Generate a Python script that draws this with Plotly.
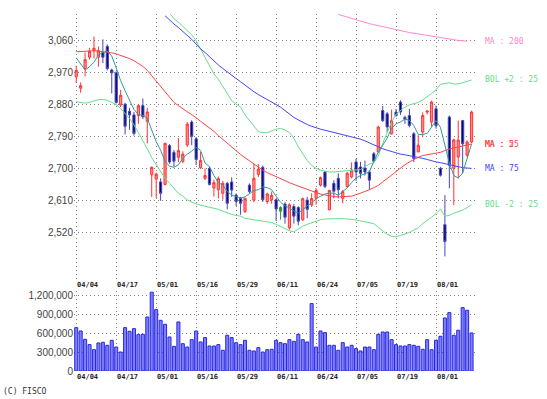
import plotly.graph_objects as go

dates = ["04/04","04/05","04/08","04/09","04/10","04/11","04/12","04/15","04/16","04/17",
         "04/18","04/19","04/22","04/23","04/24","04/25","04/26","04/30","05/01","05/02",
         "05/07","05/08","05/09","05/10","05/13","05/14","05/15","05/16","05/17","05/20",
         "05/21","05/22","05/23","05/24","05/27","05/28","05/29","05/30","05/31","06/03",
         "06/04","06/05","06/06","06/07","06/10","06/11","06/12","06/13","06/14","06/17",
         "06/18","06/19","06/20","06/21","06/24","06/25","06/26","06/27","06/28","07/01",
         "07/02","07/03","07/04","07/05","07/08","07/09","07/10","07/11","07/12","07/16",
         "07/17","07/18","07/19","07/22","07/23","07/24","07/25","07/26","07/29","07/30",
         "07/31","08/01","08/02","08/05","08/06","08/07","08/08","08/09","08/12","08/13"]

open_ = [2957,2925,2980,3012,3030,3012,3025,3042,2976,2968,
         2878,2880,2860,2850,2848,2876,2832,2682,2670,2662,
         2655,2764,2745,2731,2720,2766,2830,2783,2702,2672,
         2700,2645,2640,2630,2658,2662,2625,2616,2579,2653,
         2611,2683,2703,2607,2612,2612,2580,2600,2533,2593,
         2590,2556,2611,2597,2616,2653,2690,2584,2658,2672,
         2616,2649,2676,2718,2704,2701,2690,2741,2746,2862,
         2853,2797,2858,2886,2843,2848,2797,2746,2802,2858,
         2830,2867,2700,2542,2844,2700,2732,2834,2737,2774]
high = [2988,2941,3025,3038,3070,3042,3062,3048,2980,2972,
        2920,2884,2870,2858,2879,2896,2870,2705,2688,2672,
        2772,2768,2752,2785,2748,2830,2835,2788,2746,2700,
        2705,2668,2677,2665,2662,2675,2630,2620,2616,2658,
        2713,2712,2708,2632,2635,2615,2594,2605,2602,2600,
        2594,2618,2620,2630,2645,2677,2691,2640,2667,2686,
        2640,2690,2717,2727,2718,2722,2695,2746,2820,2875,
        2858,2865,2867,2891,2848,2867,2802,2793,2857,2863,
        2890,2876,2704,2625,2848,2783,2834,2836,2779,2862]
low = [2940,2912,2958,3005,3008,2985,2995,2975,2910,2882,
       2872,2795,2808,2792,2825,2838,2770,2620,2617,2609,
       2652,2713,2705,2718,2714,2760,2765,2709,2698,2667,
       2652,2621,2616,2612,2585,2620,2594,2570,2575,2630,
       2605,2676,2606,2600,2601,2552,2556,2545,2528,2545,
       2540,2552,2560,2592,2598,2649,2644,2582,2616,2616,
       2602,2646,2672,2665,2672,2680,2640,2718,2745,2830,
       2800,2795,2845,2850,2825,2815,2718,2746,2788,2851,
       2816,2811,2677,2453,2644,2597,2672,2686,2732,2770]
close = [2975,2932,3005,3028,3037,3030,3012,2980,2968,2885,
         2905,2818,2850,2798,2876,2845,2858,2703,2684,2630,
         2770,2718,2720,2750,2740,2824,2790,2725,2722,2680,
         2655,2660,2671,2658,2602,2639,2607,2602,2616,2635,
         2672,2698,2612,2628,2624,2586,2590,2563,2598,2566,
         2552,2615,2585,2615,2638,2674,2649,2638,2636,2640,
         2635,2686,2695,2690,2686,2690,2667,2720,2816,2834,
         2816,2834,2848,2858,2838,2820,2728,2765,2848,2861,
         2886,2820,2681,2495,2709,2780,2779,2769,2774,2858]
unchanged_days = ["06/12"]

volume = [687000,634000,502000,418000,338000,444000,455000,407000,486000,380000,
          301000,687000,629000,671000,576000,581000,856000,1253000,973000,803000,
          740000,539000,391000,777000,433000,380000,497000,634000,460000,529000,
          396000,396000,418000,328000,566000,529000,449000,418000,486000,328000,
          317000,370000,301000,338000,344000,486000,449000,433000,497000,470000,
          581000,497000,460000,1068000,380000,634000,608000,407000,407000,328000,
          449000,380000,407000,354000,317000,380000,380000,338000,581000,618000,
          618000,497000,418000,396000,396000,418000,407000,391000,344000,497000,
          338000,486000,550000,840000,925000,566000,645000,1004000,962000,603000]

ma5 = [3010,2993,2976,2985,2998,3018,3025,3029,3015,2982,
       2946,2918,2890,2865,2851,2849,2840,2806,2775,2751,
       2720,2706,2703,2710,2728,2740,2748,2759,2750,2715,
       2705,2680,2660,2653,2635,2625,2620,2617,2620,2630,
       2638,2640,2648,2646,2640,2622,2605,2595,2589,2580,
       2575,2584,2595,2603,2615,2622,2628,2631,2630,2625,
       2635,2645,2660,2673,2680,2686,2690,2720,2745,2765,
       2785,2812,2825,2830,2838,2835,2820,2795,2795,2798,
       2815,2834,2815,2765,2715,2680,2673,2687,2725,2768]
ma25 = [3027,3028,3029,3030,3030,3029,3028,3026,3024,3021,
        3017,3013,3008,3002,2995,2986,2975,2960,2945,2930,
        2915,2900,2885,2876,2868,2860,2852,2842,2832,2823,
        2815,2804,2792,2781,2770,2759,2748,2739,2730,2721,
        2712,2703,2695,2688,2682,2677,2672,2666,2660,2655,
        2650,2645,2641,2636,2632,2628,2625,2623,2621,2620,
        2620,2621,2622,2626,2630,2635,2640,2646,2652,2662,
        2672,2682,2692,2701,2710,2718,2725,2731,2736,2738,
        2740,2743,2745,2750,2755,2758,2760,2762,2765,2768]
ma75 = [None]*20 + [3128,3115,3105,3095,3085,3073,3062,3048,3035,3025,
        3013,3002,2990,2980,2970,2962,2952,2943,2933,2924,
        2915,2907,2900,2893,2887,2881,2872,2862,2852,2843,
        2836,2829,2823,2818,2813,2810,2807,2804,2801,2798,
        2795,2792,2789,2785,2782,2777,2771,2765,2760,2755,
        2751,2747,2743,2740,2738,2736,2733,2731,2728,2725,
        2721,2718,2716,2713,2709,2706,2703,2702,2701,2700]
ma200 = [None]*59 + [3132,3128,3124,3120,3116,3113,3109,3106,3103,3100,
         3097,3094,3091,3088,3086,3083,3081,3079,3077,3075,
         3073,3070,3068,3066,3064,3062,3061,3059,3058,3057]
bol_up = [None]*21 + [3135,3120,3110,3098,3088,3075,3058,3035,3015,
          2990,2965,2950,2930,2910,2890,2880,2872,2850,2835,
          2820,2803,2800,2800,2805,2810,2812,2808,2800,2785,
          2760,2740,2722,2708,2700,2695,2692,2690,2690,2691,
          2692,2693,2693,2694,2697,2705,2712,2716,2735,2770,
          2800,2830,2852,2862,2872,2878,2882,2885,2892,2900,
          2910,2920,2936,2938,2940,2937,2937,2940,2945,2948]
bol_dn = [2887,2886,2883,2885,2890,2893,2893,2891,2885,2879,
          2868,2854,2840,2822,2800,2780,2755,2730,2710,2690,
          2672,2658,2645,2630,2622,2612,2605,2600,2597,2594,
          2591,2589,2585,2580,2575,2571,2568,2566,2560,2558,
          2556,2553,2551,2550,2548,2543,2537,2532,2525,2522,
          2530,2538,2543,2548,2552,2556,2558,2559,2559,2559,
          2559,2559,2557,2555,2553,2551,2549,2545,2535,2525,
          2515,2509,2508,2512,2516,2520,2527,2533,2545,2553,
          2563,2573,2586,2566,2568,2574,2578,2583,2590,2598]

tick_dates = ["04/04","04/17","05/01","05/16","05/29","06/11","06/24","07/05","07/19","08/01"]
price_ticks = [2520,2610,2700,2790,2880,2970,3060]
volume_ticks = [0,300000,600000,900000,1200000]

GRID = "#808080"
DOTS = "1px,3px"
mono = "DejaVu Sans Mono"

normal = [i for i, d in enumerate(dates) if d not in unchanged_days]
flat = [i for i, d in enumerate(dates) if d in unchanged_days]

fig = go.Figure()
fig.add_trace(go.Candlestick(
    x=[dates[i] for i in normal], open=[open_[i] for i in normal], high=[high[i] for i in normal],
    low=[low[i] for i in normal], close=[close[i] for i in normal],
    increasing=dict(line=dict(color="#ff3333", width=1), fillcolor="#ff9090"),
    decreasing=dict(line=dict(color="#4848b0", width=1), fillcolor="#000080"),
    whiskerwidth=0, xaxis="x", yaxis="y", showlegend=False, hoverinfo="skip"))
fig.add_trace(go.Candlestick(
    x=[dates[i] for i in flat], open=[open_[i] for i in flat], high=[high[i] for i in flat],
    low=[low[i] for i in flat], close=[close[i] for i in flat],
    increasing=dict(line=dict(color="#339933", width=1), fillcolor="#339933"),
    decreasing=dict(line=dict(color="#339933", width=1), fillcolor="#339933"),
    whiskerwidth=0, xaxis="x", yaxis="y", showlegend=False, hoverinfo="skip"))

lines = [(ma200, "#ff88cc"), (bol_up, "#66dd88"), (bol_dn, "#66dd88"),
         (ma75, "#4444ff"), (ma25, "#ff4444"), (ma5, "#339999")]
for vals, col in lines:
    fig.add_trace(go.Scatter(x=dates, y=vals, mode="lines", line=dict(color=col, width=1),
                             xaxis="x", yaxis="y", showlegend=False, hoverinfo="skip"))

fig.add_trace(go.Bar(x=dates, y=volume, marker=dict(color="#8080ff", line=dict(color="#2828e0", width=1)),
                     xaxis="x2", yaxis="y2", showlegend=False, hoverinfo="skip"))

axis_common = dict(type="category", categoryorder="array", categoryarray=dates,
                   range=[-0.5, 90.0], showgrid=True, gridcolor=GRID,
                   griddash=DOTS, gridwidth=1, tickvals=tick_dates, showticklabels=False,
                   zeroline=False, showline=False, ticks="")
fig.update_layout(
    width=547, height=399,
    margin=dict(l=74, r=71, t=12, b=28),
    paper_bgcolor="white", plot_bgcolor="white",
    boxgap=0.3, bargap=0.32,
    xaxis=dict(axis_common, anchor="y", rangeslider=dict(visible=False)),
    xaxis2=dict(axis_common, anchor="y2", matches="x"),
    yaxis=dict(domain=[0.259, 1], range=[2391, 3133], tickvals=price_ticks, tickformat=",",
               showgrid=True, gridcolor=GRID, griddash=DOTS, zeroline=False, showline=False,
               ticks="", tickfont=dict(family="Liberation Sans", size=10, color="#444444")),
    yaxis2=dict(domain=[0, 0.2228], range=[0, 1260000], tickvals=volume_ticks, tickformat=",",
                showgrid=True, gridcolor=GRID, griddash=DOTS, zeroline=False, showline=False,
                ticks="", tickfont=dict(family="Liberation Sans", size=10, color="#444444")),
    font=dict(family="Liberation Sans"),
)

annotations = []
for d in tick_dates:
    annotations.append(dict(x=d, xref="x", y=0.2396, yref="paper", text=d, showarrow=False,
                            xanchor="left", yanchor="middle", xshift=-1,
                            font=dict(family=mono, size=7, color="#222222", weight="bold")))
    annotations.append(dict(x=d, xref="x2", y=-0.0167, yref="paper", text=d, showarrow=False,
                            xanchor="left", yanchor="middle", xshift=-1,
                            font=dict(family=mono, size=7, color="#222222", weight="bold")))

right_labels = [("MA : 200", ma200[-1], "#ff88cc"), ("BOL +2 : 25", bol_up[-1], "#66dd88"),
                ("MA : 5", ma5[-1], "#ff4444"), ("MA : 25", ma25[-1], "#ff4444"),
                ("MA : 75", ma75[-1], "#4444ff"), ("BOL -2 : 25", bol_dn[-1], "#66dd88")]
for txt, yv, col in right_labels:
    annotations.append(dict(x=1, xref="paper", y=yv, yref="y", text=txt, showarrow=False,
                            xanchor="left", yanchor="middle", xshift=7,
                            font=dict(family=mono, size=8, color=col)))
annotations.append(dict(x=0, xref="paper", y=-0.058, yref="paper", text="(C) FISCO", showarrow=False,
                        xanchor="left", yanchor="middle", xshift=-73,
                        font=dict(family=mono, size=8, color="#333333")))
fig.update_layout(annotations=annotations)

fig.write_html("out.html", config={"displayModeBar": False},
               post_script="document.body.style.margin='0';document.body.style.overflow='hidden';")
